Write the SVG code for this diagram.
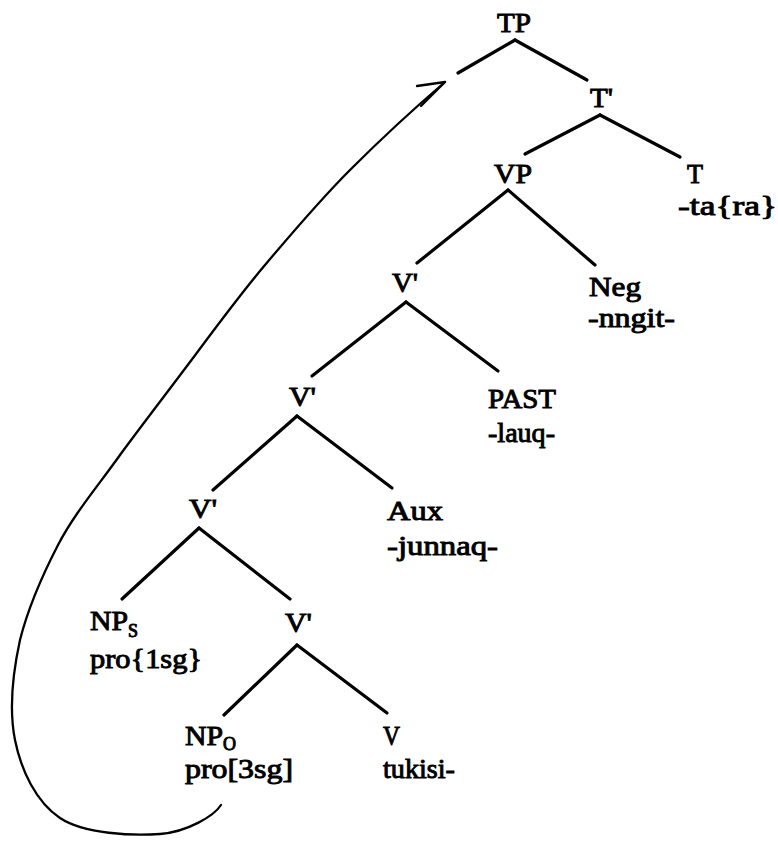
<svg xmlns="http://www.w3.org/2000/svg" width="778" height="841" viewBox="0 0 778 841">
<style>
text{font-family:"Liberation Serif","Times New Roman",serif;font-size:28px;fill:#000;stroke:#000;stroke-width:0.95px}
.sub{font-size:18px}
.edge{stroke:#000;stroke-width:3.2;stroke-linecap:round;fill:none}
.move{stroke:#000;stroke-width:2.3;fill:none;stroke-linecap:round;stroke-linejoin:round}
</style>
<rect width="778" height="841" fill="#fff"/>
<g id="connectors">
<line class="edge" x1="515" y1="40" x2="458" y2="73"/>
<line class="edge" x1="515" y1="40" x2="587" y2="80"/>
<line class="edge" x1="600" y1="115" x2="525" y2="154"/>
<line class="edge" x1="600" y1="115" x2="680" y2="157"/>
<line class="edge" x1="508" y1="190" x2="417" y2="263"/>
<line class="edge" x1="508" y1="190" x2="595" y2="265"/>
<line class="edge" x1="406" y1="302" x2="312" y2="376"/>
<line class="edge" x1="406" y1="302" x2="498" y2="371"/>
<line class="edge" x1="297" y1="416" x2="213" y2="490"/>
<line class="edge" x1="297" y1="416" x2="392" y2="488"/>
<line class="edge" x1="199" y1="528" x2="122" y2="599"/>
<line class="edge" x1="199" y1="528" x2="290" y2="599"/>
<line class="edge" x1="297" y1="645" x2="224" y2="715"/>
<line class="edge" x1="297" y1="645" x2="387" y2="713"/>
<path class="move" d="M 221 805 C 214 816, 187 832, 160 834 C 133 836, 84 834, 60 818 C 36 802, 21 770, 15 740 C 9 710, 13 672, 20 640 C 28 608, 42 576, 58 545 C 74 514, 98 486, 120 455 C 142 425, 166 394, 190 362 C 214 330, 238 297, 265 265 C 292 233, 320 200, 350 170 C 380 140, 410 112, 445 82"/>
<polyline class="move" stroke-width="3.2" points="417,86 445,82 421,106"/>
</g>
<g id="TP"><text x="497" y="32" textLength="34" lengthAdjust="spacingAndGlyphs">TP</text></g>
<g id="Tbar"><text x="590" y="107" textLength="23" lengthAdjust="spacingAndGlyphs">T'</text></g>
<g id="VP"><text x="494" y="183" textLength="38" lengthAdjust="spacingAndGlyphs">VP</text></g>
<g id="T"><text x="687" y="183" textLength="16" lengthAdjust="spacingAndGlyphs">T</text><text x="678" y="215" textLength="99" lengthAdjust="spacingAndGlyphs">-ta{ra}</text></g>
<g id="Vbar1"><text x="392" y="292" textLength="26" lengthAdjust="spacingAndGlyphs">V'</text></g>
<g id="Neg"><text x="589" y="296" textLength="52" lengthAdjust="spacingAndGlyphs">Neg</text><text x="588" y="327" textLength="87" lengthAdjust="spacingAndGlyphs">-nngit-</text></g>
<g id="Vbar2"><text x="289" y="406" textLength="27" lengthAdjust="spacingAndGlyphs">V'</text></g>
<g id="PAST"><text x="488" y="408" textLength="68" lengthAdjust="spacingAndGlyphs">PAST</text><text x="488" y="442" textLength="67" lengthAdjust="spacingAndGlyphs">-lauq-</text></g>
<g id="Vbar3"><text x="189" y="518" textLength="28" lengthAdjust="spacingAndGlyphs">V'</text></g>
<g id="Aux"><text x="387" y="520" textLength="56" lengthAdjust="spacingAndGlyphs">Aux</text><text x="387" y="555" textLength="111" lengthAdjust="spacingAndGlyphs">-junnaq-</text></g>
<g id="NPs"><text x="90" y="630"><tspan textLength="38" lengthAdjust="spacingAndGlyphs">NP</tspan><tspan class="sub" dy="7">S</tspan></text><text x="90" y="668" textLength="112" lengthAdjust="spacingAndGlyphs">pro{1sg}</text></g>
<g id="Vbar4"><text x="285" y="632" textLength="27" lengthAdjust="spacingAndGlyphs">V'</text></g>
<g id="NPo"><text x="185" y="745"><tspan textLength="38" lengthAdjust="spacingAndGlyphs">NP</tspan><tspan class="sub" dy="5">O</tspan></text><text x="185" y="778" textLength="108" lengthAdjust="spacingAndGlyphs">pro[3sg]</text></g>
<g id="V"><text x="383" y="745" textLength="17" lengthAdjust="spacingAndGlyphs">V</text><text x="383" y="778" textLength="72" lengthAdjust="spacingAndGlyphs">tukisi-</text></g>
</svg>
